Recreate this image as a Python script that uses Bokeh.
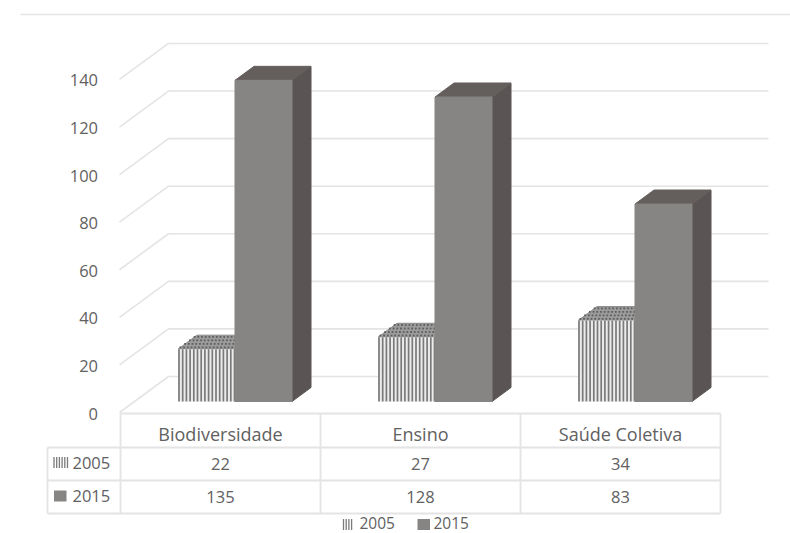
from bokeh.plotting import figure
from bokeh.embed import file_html
from bokeh.resources import INLINE
from bokeh.core.properties import value

categories = ["Biodiversidade", "Ensino", "Saúde Coletiva"]
series_names = ["2005", "2015"]
values_2005 = [22, 27, 34]
values_2015 = [135, 128, 83]
y_ticks = [0, 20, 40, 60, 80, 100, 120, 140]

W, H = 790, 533
PX_PER_UNIT = 2.379
BASE_PX = 401.0

GRID = "#e4e4e4"
TEXT = "#616161"
FONT = value("Open Sans")

FRONT = "#868583"
TOP = "#645f5d"
SIDE = "#5a5554"
STRIPE_BG = "#ececec"
STRIPE = "#7a7a7a"

CAT_LEFT = [120, 320, 520]
CAT_W = 200
BAR_W = 57
BAR_INSET = 57.5
DX, DY_PX = 19, 14


def py(px):
    """Convert a page pixel row to the value scale of the bars."""
    return (BASE_PX - px) / PX_PER_UNIT


p = figure(width=W, height=H, x_range=(0, W), y_range=(py(H), py(0)),
           output_backend="svg", toolbar_location=None, min_border=0,
           background_fill_color="white", border_fill_color="white",
           outline_line_color=None)
p.xaxis.visible = False
p.yaxis.visible = False
p.grid.visible = False

# Rule across the top of the page
p.segment([20], [py(14)], [790], [py(14)], line_color=GRID, line_width=1.4)

# Back wall and side wall grid
back_shift = 25 / PX_PER_UNIT
front_shift = -11 / PX_PER_UNIT
for t in y_ticks:
    p.line([119, 168, 768], [t + front_shift, t + back_shift, t + back_shift],
           line_color=GRID, line_width=1.6)


def box(x0, v, front, side, top):
    dy = DY_PX / PX_PER_UNIT
    x1 = x0 + BAR_W
    p.patch([x1, x1 + DX, x1 + DX, x1], [0, dy, v + dy, v], fill_color=side, line_color=side)
    p.patch([x0, x0 + DX, x1 + DX, x1], [v, v + dy, v + dy, v], fill_color=top, line_color=top)
    p.quad(left=[x0], right=[x1], bottom=[0], top=[v], fill_color=front, line_color=front)


def striped_box(x0, v):
    dy = DY_PX / PX_PER_UNIT
    x1 = x0 + BAR_W
    p.patch([x0, x0 + DX, x1 + DX, x1], [v, v + dy, v + dy, v],
            fill_color="#9c9c9c", line_color="#8a8a8a")
    p.quad(left=[x0], right=[x1], bottom=[0], top=[v], fill_color=STRIPE_BG, line_color=None)
    xs = [x0 + 1 + i * 3.7 for i in range(int(BAR_W / 3.7) + 1)]
    p.segment(xs, [0] * len(xs), xs, [v] * len(xs), line_color=STRIPE, line_width=1.7)
    # dotted top face
    n_rows = 4
    for r in range(n_rows):
        f = (r + 0.5) / n_rows
        px = [x0 + DX * f + i * 3.7 for i in range(int(BAR_W / 3.7))]
        p.scatter(px, [v + dy * f] * len(px), size=1.8, marker="square",
                  fill_color="#5e5e5e", line_color=None)


for i, left in enumerate(CAT_LEFT):
    striped_box(left + BAR_INSET, values_2005[i])
    box(left + BAR_INSET + BAR_W, values_2015[i], FRONT, SIDE, TOP)

# Axis labels along the front edge of the side wall
p.text([97.5] * len(y_ticks), [t + py(413) for t in y_ticks], text=[str(t) for t in y_ticks],
       text_font=FONT, text_font_size="16.5px", text_color=TEXT,
       text_align="right", text_baseline="middle")

# Data table under the plot
table_x = [120, 320, 520, 720]
p.segment([120], [py(413)], [720], [py(413)], line_color=GRID, line_width=1.8)
p.segment([47, 47], [py(447), py(480)], [720, 720], [py(447), py(480)], line_color=GRID, line_width=1.8)
p.segment([47], [py(513)], [720], [py(513)], line_color=GRID, line_width=1.8)
p.segment([47], [py(447)], [47], [py(513)], line_color=GRID, line_width=1.8)
p.segment(table_x, [py(413)] * 4, table_x, [py(513)] * 4, line_color=GRID, line_width=1.8)

centers = [left + CAT_W / 2 for left in CAT_LEFT]
p.text(centers, [py(433)] * 3, text=categories, text_font=FONT, text_font_size="18px",
       text_color=TEXT, text_align="center", text_baseline="middle")
p.text(centers, [py(463)] * 3, text=[str(v) for v in values_2005], text_font=FONT,
       text_font_size="16.5px", text_color=TEXT, text_align="center", text_baseline="middle")
p.text(centers, [py(496)] * 3, text=[str(v) for v in values_2015], text_font=FONT,
       text_font_size="16.5px", text_color=TEXT, text_align="center", text_baseline="middle")


def key(x, y_px, name, striped, gap, size="16.5px", text_y=None, n_stripes=6):
    if striped:
        xs = [x + i * 2.7 for i in range(n_stripes)]
        p.segment(xs, [py(y_px + 5.5)] * n_stripes, xs, [py(y_px - 5.5)] * n_stripes,
                  line_color=STRIPE, line_width=1.3)
    else:
        p.quad(left=[x], right=[x + 12.5], bottom=[py(y_px + 5.5)], top=[py(y_px - 5.5)],
               fill_color=FRONT, line_color=None)
    p.text([x + gap], [py(text_y if text_y is not None else y_px)], text=[name], text_font=FONT,
           text_font_size=size, text_color=TEXT, text_align="left", text_baseline="middle")


# Row keys in the table
key(53.5, 462, series_names[0], True, 18.5)
key(53.5, 495.5, series_names[1], False, 18.5)
# Legend at the bottom
key(343, 524, series_names[0], True, 16, "15.5px", 522.5, n_stripes=4)
key(417, 524, series_names[1], False, 16, "15.5px", 522.5)

open("out.html", "w").write(file_html(p, INLINE))
